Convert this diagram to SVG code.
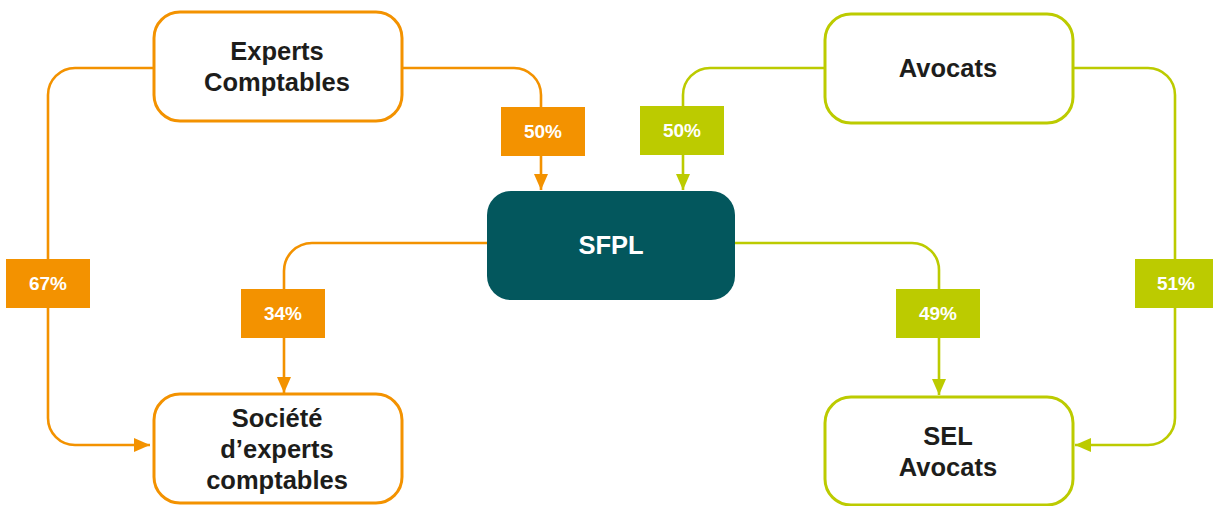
<svg xmlns="http://www.w3.org/2000/svg" width="1213" height="506" viewBox="0 0 1213 506">
<style>
.node{fill:#fff;stroke-width:3}
.o{stroke:#F39200}
.g{stroke:#BCCB00}
.t{font-family:"Liberation Sans",Arial,sans-serif;font-weight:bold;font-size:25.5px;fill:#1D1D1B;text-anchor:middle}
.w{fill:#fff}
.lbl{font-family:"Liberation Sans",Arial,sans-serif;font-weight:bold;font-size:19px;fill:#fff;text-anchor:middle}
.c{fill:none;stroke-width:2.6}
</style>
<defs>
<marker id="ao" viewBox="0 0 16 14" refX="16" refY="7" markerWidth="16" markerHeight="14" markerUnits="userSpaceOnUse" orient="auto"><path d="M0,0 L16,7 L0,14 Z" fill="#F39200"/></marker>
<marker id="ag" viewBox="0 0 16 14" refX="16" refY="7" markerWidth="16" markerHeight="14" markerUnits="userSpaceOnUse" orient="auto"><path d="M0,0 L16,7 L0,14 Z" fill="#BCCB00"/></marker>
</defs>
<rect width="1213" height="506" fill="#fff"/>
<g id="connectors">
<path class="c o" d="M153,68 H75 A27,27 0 0 0 48,95 V418 A27,27 0 0 0 75,445 H150" marker-end="url(#ao)"/>
<path class="c o" d="M402,68 H514 A27,27 0 0 1 541,95 V190" marker-end="url(#ao)"/>
<path class="c g" d="M825,68 H710 A27,27 0 0 0 683,95 V190" marker-end="url(#ag)"/>
<path class="c g" d="M1073,68 H1148 A27,27 0 0 1 1175,95 V418 A27,27 0 0 1 1148,445 H1075" marker-end="url(#ag)"/>
<path class="c o" d="M487,243 H312 A28,28 0 0 0 284,271 V393" marker-end="url(#ao)"/>
<path class="c g" d="M735,243 H912 A27,27 0 0 1 939,270 V395" marker-end="url(#ag)"/>
<g id="labels">
<rect x="501" y="107" width="84" height="49" fill="#F39200"/><text class="lbl" x="543" y="138">50%</text>
<rect x="640" y="106" width="84" height="49" fill="#BCCB00"/><text class="lbl" x="682" y="137">50%</text>
<rect x="6" y="259" width="84" height="49" fill="#F39200"/><text class="lbl" x="48" y="290">67%</text>
<rect x="241" y="289" width="84" height="49" fill="#F39200"/><text class="lbl" x="283" y="320">34%</text>
<rect x="896" y="289" width="84" height="49" fill="#BCCB00"/><text class="lbl" x="938" y="320">49%</text>
<rect x="1135" y="259" width="78" height="49" fill="#BCCB00"/><text class="lbl" x="1176" y="290">51%</text>
</g>
</g>
<g id="experts-comptables">
<rect class="node o" x="154" y="12" width="248" height="109" rx="26"/>
<text class="t" x="277" y="60">Experts</text>
<text class="t" x="277" y="91">Comptables</text>
</g>
<g id="avocats">
<rect class="node g" x="825" y="14" width="248" height="109" rx="26"/>
<text class="t" x="948" y="77">Avocats</text>
</g>
<g id="sfpl">
<rect x="487" y="191" width="248" height="109" rx="24" fill="#03575D"/>
<text class="t w" x="611" y="254">SFPL</text>
</g>
<g id="societe-experts-comptables">
<rect class="node o" x="154" y="394" width="248" height="109" rx="26"/>
<text class="t" x="277" y="427">Société</text>
<text class="t" x="277" y="458">d’experts</text>
<text class="t" x="277" y="489">comptables</text>
</g>
<g id="sel-avocats">
<rect class="node g" x="825" y="397" width="248" height="108" rx="26"/>
<text class="t" x="948" y="445">SEL</text>
<text class="t" x="948" y="476">Avocats</text>
</g>
</svg>
